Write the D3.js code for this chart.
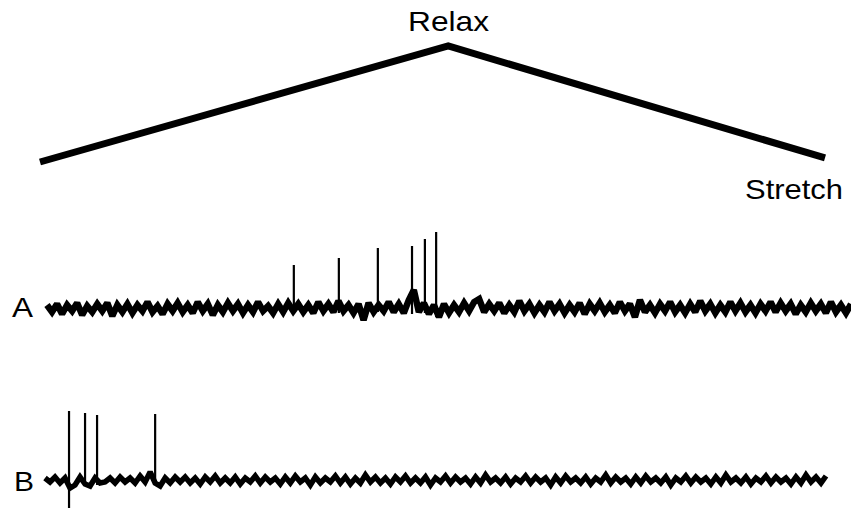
<!DOCTYPE html>
<html>
<head>
<meta charset="utf-8">
<script src="https://cdn.jsdelivr.net/npm/d3@7"></script>
<style>
  html, body { margin: 0; padding: 0; background: #fff; }
  svg { display: block; }
  text { font-family: "Liberation Sans", Arial, sans-serif; fill: #000; }
</style>
</head>
<body>
<svg id="chart" width="851" height="508"></svg>
<script>
// ---- data ----
// stimulus (muscle length ramp): time (s) and normalised position
const stimTime = [0, 10.4, 20];
const stimPos = [0, 1, 0.035];
const stimLabels = ["Relax", "Stretch"];

// trace labels
const traceLabels = ["A", "B"];

// sampling interval of the background traces (s)
const dt = 0.125;

// trace A background activity (µV-like units), one value per dt
const noiseA = [3,-4,4,-6,3,-3,5,-7,2,-4,4,-3,5,-8,3,-4,4,-5,3,-3,6,-4,2,-6,4,-3,5,-4,3,-5,
  6,-3,4,-7,3,-4,5,-3,4,-5,3,-4,6,-3,2,-5,4,-4,5,-3,
  4,-4,3,-5,6,-3,4,-4,7,-3,3,-5,4,-12,5,-4,3,-3,6,-4,4,-5,8,18,-4,5,-6,3,-9,4,-5,
  3,-4,5,-3,6,9,-4,4,-3,5,-5,3,-4,7,-3,4,-5,3,-4,6,
  -3,4,-5,3,-4,5,-6,4,-3,5,-4,3,-5,6,-3,4,-9,8,-4,3,
  -5,4,-3,6,-4,3,-5,4,-4,7,-3,4,-5,3,-4,6,-3,5,-4,3,
  -5,4,-3,6,-4,5,-3,4,-6,3,-4,5,-3,4,-5,6,-4,3,-5,4];
// trace A spikes: times (s) and peak amplitudes
const spikeTimesA = [6.14, 7.26, 8.23, 9.08, 9.40, 9.68];
const spikeAmpA = [43, 50, 60, 62, 69, 76];
const spikeMinA = [-4, -5, -4, -6, -5, -9];

// trace B background activity
const noiseB = [2,-2,3,-3,2,-8,-5,3,-4,-6,2,-3,-2,2,-3,3,-2,2,-3,4,-2,8,-3,-6,2,-3,3,-2,
  3,-3,2,-4,3,-2,4,-3,2,-3,3,-4,2,-2,4,-3,3,-2,2,-4,
  3,-3,4,-2,2,-5,3,-3,2,-2,4,-3,3,-4,2,-3,5,-2,3,-3,
  2,-4,3,-2,4,-3,2,-3,3,-5,2,-2,4,-3,3,-2,2,-4,3,-3,
  5,-2,2,-3,3,-4,2,-2,4,-3,3,-2,2,-5,3,-3,4,-2,2,-3,
  3,-4,2,-2,5,-3,3,-2,2,-4,3,-3,4,-2,2,-3,3,-5,2,-2,
  4,-3,3,-2,2,-4,3,-3,5,-2,2,-3,3,-4,2,-2,4,-3,3,-2,
  2,-4,3,-3,5,-2,3,-3,4];
// trace B spikes
const spikeTimesB = [0.60, 1.00, 1.30, 2.75];
const spikeAmpB = [69, 67, 65, 66];
const spikeMinB = [-28, -6, -5, -4];

// ---- drawing ----
const svg = d3.select("#chart");

// stimulus ramp
const xStim = d3.scaleLinear().domain([0, 20]).range([40, 825]);
const yStim = d3.scaleLinear().domain([0, 1]).range([162, 46]);
svg.append("path")
  .datum(stimTime.map((t, i) => [t, stimPos[i]]))
  .attr("fill", "none")
  .attr("stroke", "#000")
  .attr("stroke-width", 7)
  .attr("stroke-linejoin", "miter")
  .attr("d", d3.line().x(d => xStim(d[0])).y(d => yStim(d[1])));

svg.append("text").attr("x", 408).attr("y", 31)
  .attr("font-size", 28).attr("textLength", 81).attr("lengthAdjust", "spacingAndGlyphs")
  .text(stimLabels[0]);
svg.append("text").attr("x", 745).attr("y", 199)
  .attr("font-size", 28).attr("textLength", 98).attr("lengthAdjust", "spacingAndGlyphs")
  .text(stimLabels[1]);

function drawTrace(noise, spikeTimes, spikeAmp, spikeMin, xRange, baseline, sw, label, labelX, labelY, labelW) {
  const dur = (noise.length - 1) * dt;
  const x = d3.scaleLinear().domain([0, dur]).range(xRange);
  const y = d3.scaleLinear().domain([-20, 80]).range([baseline + 20, baseline - 80]);
  const g = svg.append("g");
  g.append("path")
    .datum(noise.map((v, i) => [i * dt, v]))
    .attr("fill", "none")
    .attr("stroke", "#000")
    .attr("stroke-width", sw)
    .attr("stroke-linejoin", "miter")
    .attr("stroke-miterlimit", 2)
    .attr("d", d3.line().x(d => x(d[0])).y(d => y(d[1])));
  g.selectAll("line.spike")
    .data(spikeTimes.map((t, i) => ({t, a: spikeAmp[i], m: spikeMin[i]})))
    .join("line")
    .attr("class", "spike")
    .attr("x1", d => x(d.t)).attr("x2", d => x(d.t))
    .attr("y1", d => y(d.m)).attr("y2", d => y(d.a))
    .attr("stroke", "#000")
    .attr("stroke-width", 2.2);
  svg.append("text").attr("x", labelX).attr("y", labelY)
    .attr("font-size", 28).attr("textLength", labelW).attr("lengthAdjust", "spacingAndGlyphs")
    .text(label);
}

drawTrace(noiseA, spikeTimesA, spikeAmpA, spikeMinA, [47, 851], 308, 6.5, traceLabels[0], 12, 317, 21);
drawTrace(noiseB, spikeTimesB, spikeAmpB, spikeMinB, [45, 826], 480, 5.5, traceLabels[1], 14, 491, 20);
</script>
</body>
</html>
